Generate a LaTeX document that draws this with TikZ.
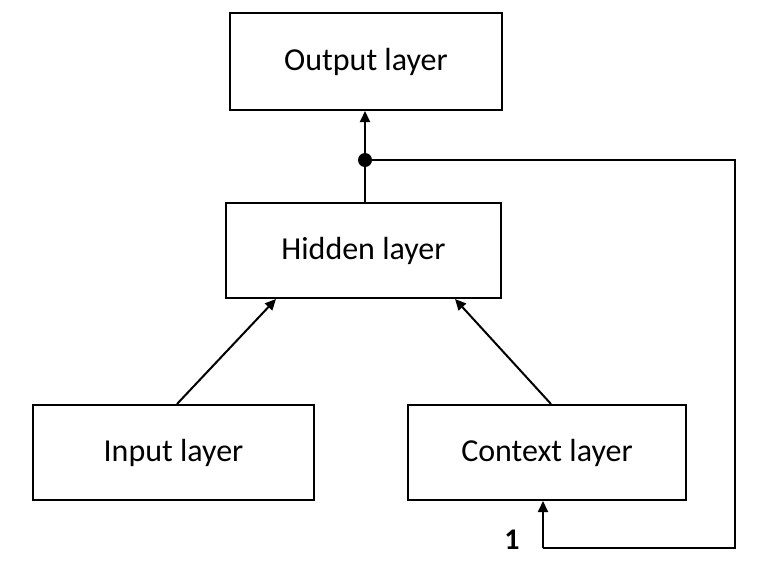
\documentclass[tikz,border=0pt]{standalone}
\usepackage{fontspec}
\setmainfont{Carlito}
\usetikzlibrary{arrows.meta}
\begin{document}
\begin{tikzpicture}[x=1pt,y=-1pt,
  layerbox/.style={draw, line width=2pt, inner sep=0pt, font=\fontsize{32}{36}\selectfont},
  conn/.style={line width=2pt, -{Triangle[length=11pt,width=10pt]}},
  plain/.style={line width=2pt}]
\useasboundingbox (0,0) rectangle (760,560);
\node[layerbox, minimum width=272pt, minimum height=97pt] (out) at (366,61.5) {Output layer};
\node[layerbox, minimum width=275pt, minimum height=95pt] (hid) at (363.5,250.5) {Hidden layer};
\node[layerbox, minimum width=281pt, minimum height=95pt] (inp) at (173.5,452.5) {Input layer};
\node[layerbox, minimum width=278pt, minimum height=95pt] (ctx) at (547,452.5) {Context layer};
\coordinate (dot) at (365,160);
\coordinate (r1) at (735,160);
\coordinate (r2) at (735,548);
\coordinate (r3) at (543,548);
\fill (dot) circle (7pt);
\draw[plain] (hid.north -| dot) -- (dot);
\draw[conn] (dot) -- (out.south -| dot);
\draw[plain] (dot) -- (r1) -- (r2) -- (r3);
\draw[conn] (r3) -- (ctx.south -| r3);
\draw[conn] (inp.north -| 177,0) -- (hid.south -| 276,0);
\draw[conn] (ctx.north -| 551,0) -- (hid.south -| 455,0);
\node[font=\fontsize{30}{34}\selectfont\bfseries] (one) at (512,540) {1};
\end{tikzpicture}
\end{document}
